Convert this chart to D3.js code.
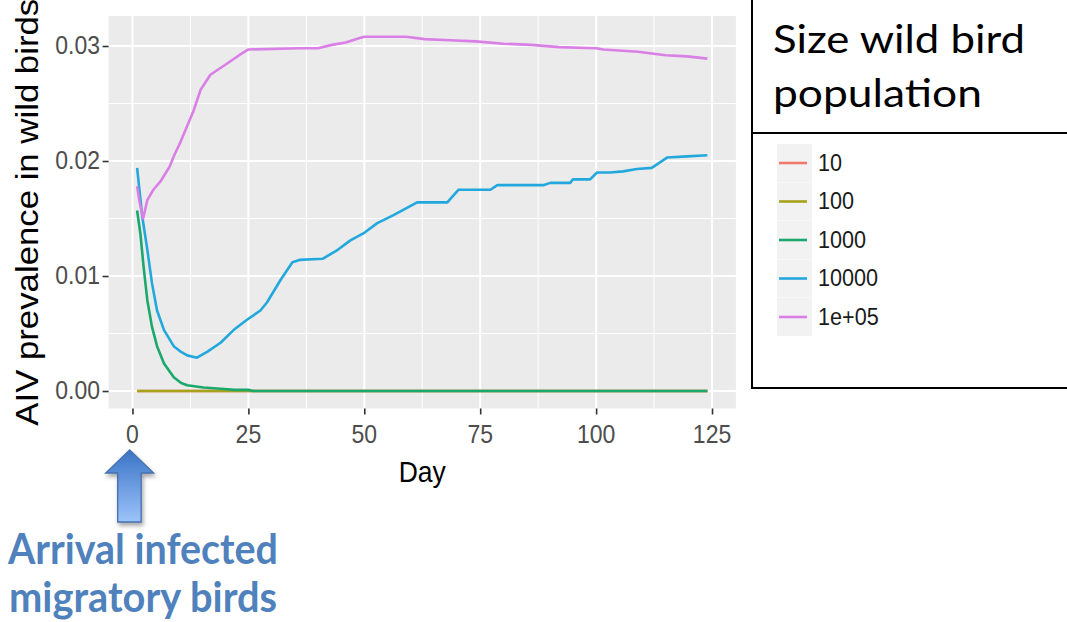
<!DOCTYPE html>
<html>
<head>
<meta charset="utf-8">
<script src="https://cdn.jsdelivr.net/npm/d3@7/dist/d3.min.js"></script>
<style>
  html, body { margin: 0; padding: 0; background: #fff; }
  svg { display: block; }
</style>
</head>
<body>
<svg id="chart" width="1067" height="622"></svg>
<script>
// ---------------- DATA ----------------
const seriesNames = ["10", "100", "1000", "10000", "1e+05"];
const seriesColors = ["#f0786d", "#a6a21c", "#1aa86c", "#22a8dc", "#d97fe6"];

const days10 = [1, 124];
const prev10 = [0, 0];

const days100 = [1, 124];
const prev100 = [0, 0];

const days1000 = [1, 1.7, 2.4, 3.2, 4.2, 5.3, 6.8, 8.9, 10.5, 11.8, 15.3, 19, 22, 25, 26, 124];
const prev1000 = [0.0157, 0.0137, 0.0108, 0.0079, 0.0056, 0.0039, 0.0024, 0.0012, 0.0007, 0.0005, 0.0003, 0.0002, 0.0001, 0.0001, 0, 0];

const days10000 = [1, 1.5, 2.1, 3.2, 4.2, 5.3, 6.8, 8.9, 10.5, 11.8, 13.9, 16.1, 19, 21.8, 24.7, 27.6, 29, 32, 34.5, 36, 41, 44, 47, 49.8, 52.8, 56.3, 61.4, 67.9, 70.3, 77.2, 78.7, 88.6, 90.1, 94.4, 95, 98.7, 100.2, 103, 105.8, 108.8, 112, 115.3, 119.6, 124];
const prev10000 = [0.0194, 0.0175, 0.0152, 0.0123, 0.0094, 0.0070, 0.0053, 0.0039, 0.0034, 0.0031, 0.0029, 0.0034, 0.0042, 0.0053, 0.0062, 0.0070, 0.0077, 0.0097, 0.0112, 0.0114, 0.0115, 0.0122, 0.0131, 0.0137, 0.0146, 0.0153, 0.0164, 0.0164, 0.0175, 0.0175, 0.0179, 0.0179, 0.0181, 0.0181, 0.0184, 0.0184, 0.0190, 0.0190, 0.0191, 0.0193, 0.0194, 0.0203, 0.0204, 0.0205];

const days1e5 = [1, 1.5, 2.3, 3.2, 4.5, 6, 8, 9, 10.3, 13.2, 14.7, 16.8, 20.5, 23, 25, 36, 40, 43, 46, 49, 50, 59, 63, 68.5, 74, 80, 86, 92, 100, 101.6, 109, 115, 119.6, 124];
const prev1e5 = [0.0178, 0.0165, 0.0150, 0.0166, 0.0175, 0.0182, 0.0195, 0.0205, 0.0216, 0.0244, 0.0262, 0.0275, 0.0285, 0.0292, 0.0297, 0.0298, 0.0298, 0.0301, 0.0303, 0.0307, 0.0308, 0.0308, 0.0306, 0.0305, 0.0304, 0.0302, 0.0301, 0.0299, 0.0298, 0.0297, 0.0295, 0.0292, 0.0291, 0.0289];

const xTicks = [0, 25, 50, 75, 100, 125];
const yTicks = [0, 0.01, 0.02, 0.03];
const xMinor = [12.5, 37.5, 62.5, 87.5, 112.5];
const yMinor = [0.005, 0.015, 0.025];

const xTitle = "Day";
const yTitle = "AIV prevalence in wild birds";
const legendTitle = ["Size wild bird", "population"];
const noteLines = ["Arrival infected", "migratory birds"];

// ---------------- LAYOUT ----------------
const svg = d3.select("#chart");
const panel = { left: 108.6, right: 735.9, top: 16, bottom: 408.5 };
const STRETCH = 1.14; // vertical stretch of the original ggplot image

const x = d3.scaleLinear().domain([-5.15, 130.15]).range([panel.left, panel.right]);
const y = d3.scaleLinear().domain([-0.00152, 0.03261]).range([panel.bottom, panel.top]);

const defs = svg.append("defs");
defs.append("clipPath").attr("id", "clip")
  .append("rect").attr("x", panel.left).attr("y", panel.top)
  .attr("width", panel.right - panel.left).attr("height", panel.bottom - panel.top);

// panel background
svg.append("rect").attr("x", panel.left).attr("y", panel.top)
  .attr("width", panel.right - panel.left).attr("height", panel.bottom - panel.top)
  .attr("fill", "#EBEBEB");

const grid = svg.append("g");
grid.selectAll(".ymin").data(yMinor).join("line")
  .attr("x1", panel.left).attr("x2", panel.right)
  .attr("y1", d => y(d)).attr("y2", d => y(d))
  .attr("stroke", "#fff").attr("stroke-width", 1);
grid.selectAll(".xmin").data(xMinor).join("line")
  .attr("y1", panel.top).attr("y2", panel.bottom)
  .attr("x1", d => x(d)).attr("x2", d => x(d))
  .attr("stroke", "#fff").attr("stroke-width", 1);
grid.selectAll(".ymaj").data(yTicks).join("line")
  .attr("x1", panel.left).attr("x2", panel.right)
  .attr("y1", d => y(d)).attr("y2", d => y(d))
  .attr("stroke", "#fff").attr("stroke-width", 2);
grid.selectAll(".xmaj").data(xTicks).join("line")
  .attr("y1", panel.top).attr("y2", panel.bottom)
  .attr("x1", d => x(d)).attr("x2", d => x(d))
  .attr("stroke", "#fff").attr("stroke-width", 2);

// series lines
const series = [
  { days: days10, vals: prev10 },
  { days: days100, vals: prev100 },
  { days: days1000, vals: prev1000 },
  { days: days10000, vals: prev10000 },
  { days: days1e5, vals: prev1e5 }
];
const line = d3.line().x(d => x(d[0])).y(d => y(d[1]));
const lines = svg.append("g").attr("clip-path", "url(#clip)");
series.forEach((s, i) => {
  const pts = s.days.map((d, j) => [d, s.vals[j]]);
  lines.append("path").datum(pts)
    .attr("d", line)
    .attr("fill", "none")
    .attr("stroke", seriesColors[i])
    .attr("stroke-width", 2.6)
    .attr("stroke-linejoin", "round")
    .attr("stroke-linecap", "butt");
});

// helper for vertically stretched text
function stext(parent, px, py, str, size, anchor, color, rotate) {
  const g = parent.append("g")
    .attr("transform", rotate
      ? `translate(${px},${py}) rotate(-90) scale(${STRETCH},1)`
      : `translate(${px},${py}) scale(1,${STRETCH})`);
  return g.append("text")
    .attr("x", 0).attr("y", 0)
    .attr("text-anchor", anchor)
    .attr("font-family", "'Liberation Sans', Arial, sans-serif")
    .attr("font-size", size)
    .attr("fill", color)
    .text(str);
}

// axes
const xAxis = d3.axisBottom(x).tickValues(xTicks).tickSize(6).tickFormat("");
const yAxis = d3.axisLeft(y).tickValues(yTicks).tickSize(6).tickFormat("");
const gx = svg.append("g").attr("transform", `translate(0,${panel.bottom})`).call(xAxis);
const gy = svg.append("g").attr("transform", `translate(${panel.left},0)`).call(yAxis);
[gx, gy].forEach(g => {
  g.select(".domain").remove();
  g.selectAll(".tick line").attr("stroke", "#333").attr("stroke-width", 1.6);
});

const labels = svg.append("g");
xTicks.forEach(t => stext(labels, x(t), 443, String(t), 23, "middle", "#4d4d4d"));
yTicks.forEach(t => stext(labels, 100, y(t) + 7.5, d3.format(".2f")(t), 23, "end", "#4d4d4d"));

stext(labels, (panel.left + panel.right) / 2, 482, xTitle, 26.5, "middle", "#000");
stext(labels, 38, (panel.top + panel.bottom) / 2, yTitle, 30.5, "middle", "#000", true);

// ---------------- LEGEND ----------------
const leg = svg.append("g");
leg.append("line").attr("x1", 752).attr("x2", 752).attr("y1", 0).attr("y2", 389)
  .attr("stroke", "#000").attr("stroke-width", 2);
leg.append("line").attr("x1", 751).attr("x2", 1067).attr("y1", 133).attr("y2", 133)
  .attr("stroke", "#000").attr("stroke-width", 2);
leg.append("line").attr("x1", 751).attr("x2", 1067).attr("y1", 388).attr("y2", 388)
  .attr("stroke", "#000").attr("stroke-width", 2);

leg.append("text").attr("x", 773).attr("y", 53)
  .attr("font-family", "Lato, 'Open Sans', sans-serif").attr("font-size", 38)
  .attr("textLength", 252).attr("lengthAdjust", "spacingAndGlyphs")
  .attr("fill", "#000").text(legendTitle[0]);
leg.append("text").attr("x", 773).attr("y", 107)
  .attr("font-family", "Lato, 'Open Sans', sans-serif").attr("font-size", 38)
  .attr("textLength", 209).attr("lengthAdjust", "spacingAndGlyphs")
  .attr("fill", "#000").text(legendTitle[1]);

const keyY = d3.scalePoint().domain(seriesNames).range([163, 317]);
seriesNames.forEach((n, i) => {
  const cy = keyY(n);
  leg.append("rect").attr("x", 777).attr("y", cy - 19).attr("width", 35).attr("height", 38)
    .attr("fill", "#F2F2F2");
  leg.append("line").attr("x1", 779).attr("x2", 807).attr("y1", cy).attr("y2", cy)
    .attr("stroke", seriesColors[i]).attr("stroke-width", 2.6);
  stext(leg, 818, cy + 7.5, n, 21.6, "start", "#1a1a1a");
});

// ---------------- ANNOTATION ----------------
const grad = defs.append("linearGradient").attr("id", "arrowGrad")
  .attr("x1", 0).attr("y1", 0).attr("x2", 0).attr("y2", 1);
grad.append("stop").attr("offset", "0%").attr("stop-color", "#3a74c6");
grad.append("stop").attr("offset", "100%").attr("stop-color", "#9cc3fa");
const shadow = defs.append("filter").attr("id", "shadow")
  .attr("x", "-30%").attr("y", "-30%").attr("width", "160%").attr("height", "160%");
shadow.append("feDropShadow").attr("dx", 1.5).attr("dy", 3).attr("stdDeviation", 2)
  .attr("flood-color", "#000").attr("flood-opacity", 0.35);

const ax = x(0) - 2.8;
svg.append("path")
  .attr("d", `M${ax},450 L${ax + 24},473 L${ax + 11.5},473 L${ax + 11.5},522 L${ax - 12},522 L${ax - 12},473 L${ax - 24},473 Z`)
  .attr("fill", "url(#arrowGrad)")
  .attr("stroke", "#4470b0").attr("stroke-width", 1.3)
  .attr("filter", "url(#shadow)");

svg.append("text").attr("x", 8).attr("y", 564)
  .attr("font-family", "Lato, 'Open Sans', sans-serif").attr("font-weight", 700)
  .attr("font-size", 42).attr("fill", "#4F81BD")
  .attr("textLength", 270).attr("lengthAdjust", "spacingAndGlyphs")
  .text(noteLines[0]);
svg.append("text").attr("x", 9).attr("y", 612)
  .attr("font-family", "Lato, 'Open Sans', sans-serif").attr("font-weight", 700)
  .attr("font-size", 42).attr("fill", "#4F81BD")
  .attr("textLength", 268).attr("lengthAdjust", "spacingAndGlyphs")
  .text(noteLines[1]);
</script>
</body>
</html>
